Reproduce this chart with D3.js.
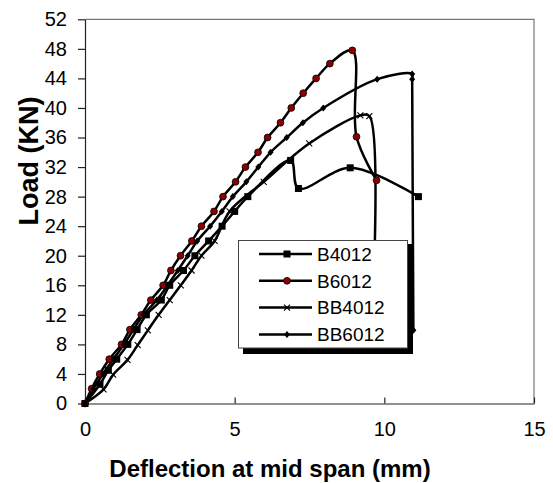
<!DOCTYPE html>
<html>
<head>
<meta charset="utf-8">
<script src="https://cdn.jsdelivr.net/npm/d3@7"></script>
<style>
  body { margin: 0; background: #fff; }
  svg { display: block; font-family: "Liberation Sans", Arial, sans-serif; }
</style>
</head>
<body>
<div id="figure"></div>
<script>
// values (deflection mm, load kN)
const b4012X = [0, 0.5, 0.78, 1.06, 1.43, 1.74, 2.05, 2.55, 2.83, 3.29, 3.67, 4.13, 4.58, 5.0, 5.44, 6.87, 7.13, 8.86, 11.14]
const b4012Y = [0, 2.6, 4.5, 6, 8, 10, 12, 14, 16, 18, 20, 22, 24, 26, 28, 32.9, 29.1, 31.9, 28]

const b6012X = [0, 0.22, 0.49, 0.81, 1.22, 1.5, 1.88, 2.2, 2.61, 2.87, 3.19, 3.57, 3.89, 4.31, 4.61, 5.03, 5.36, 5.78, 6.1, 6.53, 6.89, 7.29, 7.72, 8.18, 8.93, 9.07, 9.74]
const b6012Y = [0, 2, 4, 6, 8, 10, 12, 14, 16, 18, 20, 22, 24, 26, 28, 30, 32, 34, 36, 38, 40, 42, 44, 46, 47.8, 36.1, 30.2]

const bb4012X = [0, 0.62, 0.94, 1.42, 1.76, 2.1, 2.46, 2.83, 3.2, 3.56, 3.89, 4.33, 4.83, 5.97, 7.49, 9.2, 9.5, 9.58]
const bb4012Y = [0, 1.9, 3.9, 5.9, 7.9, 9.9, 12, 14, 16, 18, 20, 22, 26, 30, 35.2, 39, 38.9, 10]

const bb6012X = [0, 0.28, 0.6, 0.95, 1.3, 1.62, 1.95, 2.4, 2.76, 3.1, 3.43, 3.75, 4.18, 4.57, 4.94, 5.39, 5.79, 6.2, 6.74, 7.28, 7.96, 9.76, 10.93, 10.93, 10.97]
const bb6012Y = [0, 2, 4, 6, 8, 10, 12, 14, 16, 18, 20, 22, 24, 26, 28, 30, 32, 34, 36, 38, 40, 43.9, 44.6, 43.9, 9.9]

const seriesNames = ['B4012', 'B6012', 'BB4012', 'BB6012']
const markerTypes = ['square', 'circle', 'cross', 'diamond']
const xTicks = [0, 5, 10, 15]
const yTicks = [0, 4, 8, 12, 16, 20, 24, 28, 32, 36, 40, 44, 48, 52]

const series = [
	{ name: seriesNames[0], marker: markerTypes[0], pts: b4012X.map((x, i) => [x, b4012Y[i]]) },
	{ name: seriesNames[1], marker: markerTypes[1], pts: b6012X.map((x, i) => [x, b6012Y[i]]) },
	{ name: seriesNames[2], marker: markerTypes[2], pts: bb4012X.map((x, i) => [x, bb4012Y[i]]) },
	{ name: seriesNames[3], marker: markerTypes[3], pts: bb6012X.map((x, i) => [x, bb6012Y[i]]) }
]

const svg = d3.select('#figure')
	.append('svg')
	.attr('width', 553)
	.attr('height', 483)

const xScale = d3.scaleLinear().domain([0, 15]).range([85, 534])
const yScale = d3.scaleLinear().domain([0, 52]).range([403.5, 19.3])

// frame (top / right)
svg.append('path')
	.attr('d', `M${xScale(0)},${yScale(52)}H${xScale(15)}V${yScale(0)}`)
	.attr('fill', 'none')
	.attr('stroke', '#777')
	.attr('stroke-width', 1.2)

svg.append('g')
	.attr('transform', `translate(0, ${yScale(0)})`)
	.call(d3.axisBottom(xScale).tickValues(xTicks).tickSizeInner(-6).tickSizeOuter(0).tickPadding(18))
svg.append('g')
	.attr('transform', `translate(${xScale(0)}, 0)`)
	.call(d3.axisLeft(yScale).tickValues(yTicks).tickSizeInner(7).tickSizeOuter(0).tickPadding(11))

svg.selectAll('.domain, .tick line').attr('stroke', '#222').attr('stroke-width', 1.2)
svg.selectAll('.tick text')
	.attr('font-size', 20)
	.attr('fill', '#000')
	.style('font-family', '"Liberation Sans", Arial, sans-serif')

const line = d3.line()
	.x(d => xScale(d[0]))
	.y(d => yScale(d[1]))
	.curve(d3.curveCatmullRom.alpha(0.5))

function drawMarker(g, type, x, y) {
	if (type === 'square') {
		g.append('rect').attr('x', x - 3.5).attr('y', y - 3.5).attr('width', 7).attr('height', 7).attr('fill', '#000')
	} else if (type === 'circle') {
		g.append('circle').attr('cx', x).attr('cy', y).attr('r', 3.4).attr('fill', '#8b0000').attr('stroke', '#000').attr('stroke-width', 0.8)
	} else if (type === 'cross') {
		g.append('path').attr('d', `M${x - 3},${y - 3}L${x + 3},${y + 3}M${x - 3},${y + 3}L${x + 3},${y - 3}`)
			.attr('stroke', '#000').attr('stroke-width', 1.1)
	} else {
		g.append('path').attr('d', `M${x},${y - 3.5}L${x + 3},${y}L${x},${y + 3.5}L${x - 3},${y}Z`).attr('fill', '#000')
	}
}

const plot = svg.append('g')
series.forEach(s => {
	plot.append('path')
		.datum(s.pts)
		.attr('d', line)
		.attr('fill', 'none')
		.attr('stroke', '#000')
		.attr('stroke-width', 2.5)
})
series.forEach(s => {
	const mg = plot.append('g')
	s.pts.forEach(p => drawMarker(mg, s.marker, xScale(p[0]), yScale(p[1])))
})

// legend
const lg = svg.append('g')
lg.append('rect').attr('x', 243).attr('y', 244).attr('width', 170).attr('height', 110).attr('fill', '#000')
lg.append('rect').attr('x', 238.5).attr('y', 240.5).attr('width', 169).attr('height', 107.5)
	.attr('fill', '#fff').attr('stroke', '#444').attr('stroke-width', 1)
series.forEach((s, i) => {
	const yy = 254 + i * 26.8
	lg.append('line').attr('x1', 259).attr('x2', 312).attr('y1', yy).attr('y2', yy)
		.attr('stroke', '#000').attr('stroke-width', 2.5)
	drawMarker(lg, s.marker, 287, yy)
	lg.append('text')
		.attr('x', 317)
		.attr('y', yy)
		.attr('dy', '0.36em')
		.attr('font-size', 19)
		.attr('fill', '#000')
		.text(s.name)
})

// axis titles
svg.append('text')
	.attr('x', 270)
	.attr('y', 477)
	.attr('text-anchor', 'middle')
	.attr('font-size', 24)
	.attr('font-weight', 'bold')
	.text('Deflection at mid span (mm)')

svg.append('text')
	.attr('transform', 'translate(38, 161) rotate(-90)')
	.attr('text-anchor', 'middle')
	.attr('font-size', 27)
	.attr('font-weight', 'bold')
	.text('Load (KN)')
</script>
</body>
</html>
